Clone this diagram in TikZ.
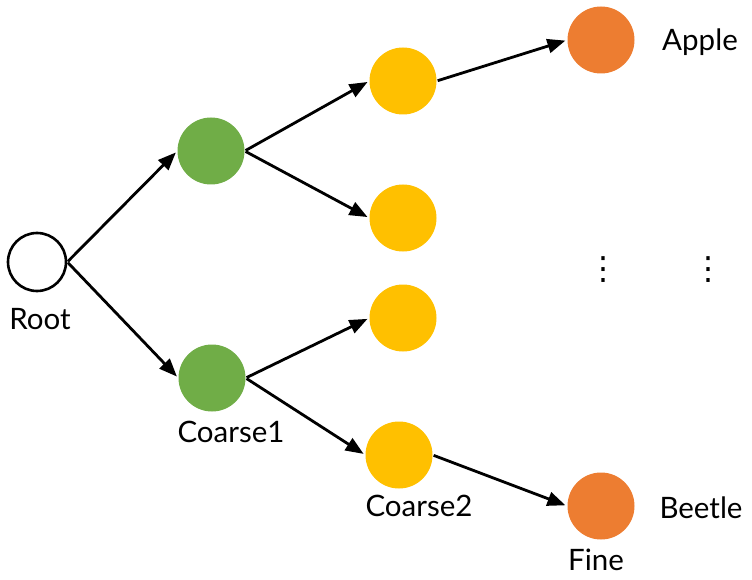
\documentclass[tikz,border=0pt]{standalone}
\usepackage{fontspec}
\setmainfont{Lato}
\newfontfamily\dotsfont{DejaVu Sans}
\definecolor{rootwhite}{RGB}{255, 255, 255}
\definecolor{coarsegreen}{RGB}{112, 173, 71}
\definecolor{coarseyellow}{RGB}{255, 192, 0}
\definecolor{fineorange}{RGB}{237, 125, 49}
\usetikzlibrary{arrows.meta, positioning}

\begin{document}
\begin{tikzpicture}[x=1pt, y=-1pt,
    dot/.style={circle, minimum size=67pt, inner sep=0pt},
    arr/.style={-{Triangle[length=18pt, width=14pt]}, line width=2.8pt, shorten >=2pt, shorten <=1pt},
    lbl/.style={font=\fontsize{29.5}{32}\selectfont}]
  \useasboundingbox (0, 0) rectangle (752, 580);

  % Root
  \node[dot, draw=black, line width=2.6pt, fill=rootwhite, minimum size=58pt] (root) at (37, 262) {};
  \node[lbl] (rootlbl) at (40, 319) {Root};

  % Coarse level 1
  \node[dot, fill=coarsegreen] (g1) at (211, 151) {};
  \node[dot, fill=coarsegreen] (g2) at (212, 378) {};
  \node[lbl] (c1lbl) at (231, 432) {Coarse1};

  % Coarse level 2
  \node[dot, fill=coarseyellow] (y1) at (403, 81) {};
  \node[dot, fill=coarseyellow] (y2) at (403, 218) {};
  \node[dot, fill=coarseyellow] (y3) at (403, 318) {};
  \node[dot, fill=coarseyellow] (y4) at (399, 455) {};
  \node[lbl] (c2lbl) at (419, 506) {Coarse2};

  % Fine level
  \node[dot, fill=fineorange] (o1) at (601, 40) {};
  \node[dot, fill=fineorange] (o2) at (601, 506) {};
  \node[lbl] (finelbl) at (596, 560) {Fine};
  \node[lbl] (apple) at (700, 42) {Apple};
  \node[lbl] (beetle) at (701, 508) {Beetle};

  % Ellipsis
  \node[font=\dotsfont\fontsize{32}{32}\selectfont] (vdl) at (603, 270) {⋮};
  \node[font=\dotsfont\fontsize{32}{32}\selectfont] (vdr) at (708, 270) {⋮};

  % Edges
  \draw[arr] (root.east) -- (g1.west);
  \draw[arr] (root.east) -- (g2.west);
  \draw[arr] (g1.east) -- (y1.west);
  \draw[arr] (g1.east) -- (y2.west);
  \draw[arr] (g2.east) -- (y3.west);
  \draw[arr] (g2.east) -- (y4.west);
  \draw[arr] (y1.east) -- (o1.west);
  \draw[arr] (y4.east) -- (o2.west);
\end{tikzpicture}
\end{document}
